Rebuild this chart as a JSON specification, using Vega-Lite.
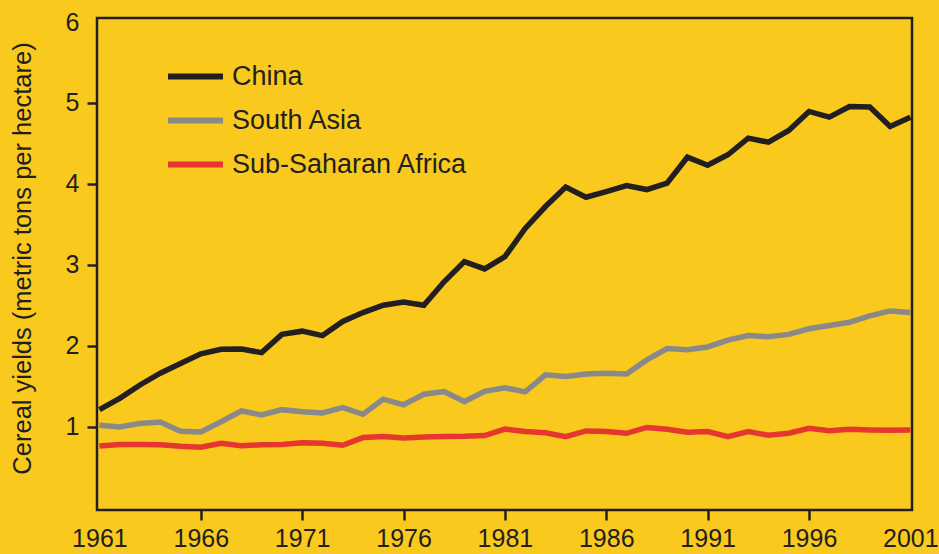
{
  "$schema": "https://vega.github.io/schema/vega-lite/v6.json",
  "autosize": {"type": "none"},
  "width": 815,
  "height": 492,
  "padding": {"left": 97, "top": 18, "right": 27, "bottom": 44},
  "background": "#F9C91E",
  "config": {
    "view": {"stroke": "#231F20", "strokeWidth": 2.5},
    "font": "Liberation Sans"
  },
  "data": {"values": [
    {"year": 1961, "region": "China", "yield": 1.21},
    {"year": 1962, "region": "China", "yield": 1.35},
    {"year": 1963, "region": "China", "yield": 1.515},
    {"year": 1964, "region": "China", "yield": 1.66},
    {"year": 1965, "region": "China", "yield": 1.78},
    {"year": 1966, "region": "China", "yield": 1.9},
    {"year": 1967, "region": "China", "yield": 1.956},
    {"year": 1968, "region": "China", "yield": 1.96},
    {"year": 1969, "region": "China", "yield": 1.915},
    {"year": 1970, "region": "China", "yield": 2.14},
    {"year": 1971, "region": "China", "yield": 2.18},
    {"year": 1972, "region": "China", "yield": 2.125},
    {"year": 1973, "region": "China", "yield": 2.3},
    {"year": 1974, "region": "China", "yield": 2.41},
    {"year": 1975, "region": "China", "yield": 2.5},
    {"year": 1976, "region": "China", "yield": 2.54},
    {"year": 1977, "region": "China", "yield": 2.5},
    {"year": 1978, "region": "China", "yield": 2.79},
    {"year": 1979, "region": "China", "yield": 3.04},
    {"year": 1980, "region": "China", "yield": 2.95},
    {"year": 1981, "region": "China", "yield": 3.1},
    {"year": 1982, "region": "China", "yield": 3.45},
    {"year": 1983, "region": "China", "yield": 3.72},
    {"year": 1984, "region": "China", "yield": 3.96},
    {"year": 1985, "region": "China", "yield": 3.835},
    {"year": 1986, "region": "China", "yield": 3.905},
    {"year": 1987, "region": "China", "yield": 3.98},
    {"year": 1988, "region": "China", "yield": 3.93},
    {"year": 1989, "region": "China", "yield": 4.01},
    {"year": 1990, "region": "China", "yield": 4.33},
    {"year": 1991, "region": "China", "yield": 4.23},
    {"year": 1992, "region": "China", "yield": 4.36},
    {"year": 1993, "region": "China", "yield": 4.565},
    {"year": 1994, "region": "China", "yield": 4.515},
    {"year": 1995, "region": "China", "yield": 4.66},
    {"year": 1996, "region": "China", "yield": 4.895},
    {"year": 1997, "region": "China", "yield": 4.825},
    {"year": 1998, "region": "China", "yield": 4.955},
    {"year": 1999, "region": "China", "yield": 4.95},
    {"year": 2000, "region": "China", "yield": 4.71},
    {"year": 2001, "region": "China", "yield": 4.825},
    {"year": 1961, "region": "South Asia", "yield": 1.017},
    {"year": 1962, "region": "South Asia", "yield": 0.996},
    {"year": 1963, "region": "South Asia", "yield": 1.04},
    {"year": 1964, "region": "South Asia", "yield": 1.058},
    {"year": 1965, "region": "South Asia", "yield": 0.943},
    {"year": 1966, "region": "South Asia", "yield": 0.935},
    {"year": 1967, "region": "South Asia", "yield": 1.06},
    {"year": 1968, "region": "South Asia", "yield": 1.194},
    {"year": 1969, "region": "South Asia", "yield": 1.145},
    {"year": 1970, "region": "South Asia", "yield": 1.21},
    {"year": 1971, "region": "South Asia", "yield": 1.185},
    {"year": 1972, "region": "South Asia", "yield": 1.17},
    {"year": 1973, "region": "South Asia", "yield": 1.235},
    {"year": 1974, "region": "South Asia", "yield": 1.153},
    {"year": 1975, "region": "South Asia", "yield": 1.34},
    {"year": 1976, "region": "South Asia", "yield": 1.27},
    {"year": 1977, "region": "South Asia", "yield": 1.4},
    {"year": 1978, "region": "South Asia", "yield": 1.433},
    {"year": 1979, "region": "South Asia", "yield": 1.31},
    {"year": 1980, "region": "South Asia", "yield": 1.437},
    {"year": 1981, "region": "South Asia", "yield": 1.48},
    {"year": 1982, "region": "South Asia", "yield": 1.43},
    {"year": 1983, "region": "South Asia", "yield": 1.64},
    {"year": 1984, "region": "South Asia", "yield": 1.62},
    {"year": 1985, "region": "South Asia", "yield": 1.65},
    {"year": 1986, "region": "South Asia", "yield": 1.66},
    {"year": 1987, "region": "South Asia", "yield": 1.65},
    {"year": 1988, "region": "South Asia", "yield": 1.825},
    {"year": 1989, "region": "South Asia", "yield": 1.965},
    {"year": 1990, "region": "South Asia", "yield": 1.95},
    {"year": 1991, "region": "South Asia", "yield": 1.985},
    {"year": 1992, "region": "South Asia", "yield": 2.07},
    {"year": 1993, "region": "South Asia", "yield": 2.125},
    {"year": 1994, "region": "South Asia", "yield": 2.11},
    {"year": 1995, "region": "South Asia", "yield": 2.14},
    {"year": 1996, "region": "South Asia", "yield": 2.21},
    {"year": 1997, "region": "South Asia", "yield": 2.25},
    {"year": 1998, "region": "South Asia", "yield": 2.29},
    {"year": 1999, "region": "South Asia", "yield": 2.37},
    {"year": 2000, "region": "South Asia", "yield": 2.43},
    {"year": 2001, "region": "South Asia", "yield": 2.41},
    {"year": 1961, "region": "Sub-Saharan Africa", "yield": 0.76},
    {"year": 1962, "region": "Sub-Saharan Africa", "yield": 0.78},
    {"year": 1963, "region": "Sub-Saharan Africa", "yield": 0.78},
    {"year": 1964, "region": "Sub-Saharan Africa", "yield": 0.775},
    {"year": 1965, "region": "Sub-Saharan Africa", "yield": 0.757},
    {"year": 1966, "region": "Sub-Saharan Africa", "yield": 0.745},
    {"year": 1967, "region": "Sub-Saharan Africa", "yield": 0.795},
    {"year": 1968, "region": "Sub-Saharan Africa", "yield": 0.765},
    {"year": 1969, "region": "Sub-Saharan Africa", "yield": 0.775},
    {"year": 1970, "region": "Sub-Saharan Africa", "yield": 0.78},
    {"year": 1971, "region": "Sub-Saharan Africa", "yield": 0.8},
    {"year": 1972, "region": "Sub-Saharan Africa", "yield": 0.795},
    {"year": 1973, "region": "Sub-Saharan Africa", "yield": 0.77},
    {"year": 1974, "region": "Sub-Saharan Africa", "yield": 0.865},
    {"year": 1975, "region": "Sub-Saharan Africa", "yield": 0.877},
    {"year": 1976, "region": "Sub-Saharan Africa", "yield": 0.86},
    {"year": 1977, "region": "Sub-Saharan Africa", "yield": 0.873},
    {"year": 1978, "region": "Sub-Saharan Africa", "yield": 0.877},
    {"year": 1979, "region": "Sub-Saharan Africa", "yield": 0.88},
    {"year": 1980, "region": "Sub-Saharan Africa", "yield": 0.89},
    {"year": 1981, "region": "Sub-Saharan Africa", "yield": 0.97},
    {"year": 1982, "region": "Sub-Saharan Africa", "yield": 0.94},
    {"year": 1983, "region": "Sub-Saharan Africa", "yield": 0.925},
    {"year": 1984, "region": "Sub-Saharan Africa", "yield": 0.877},
    {"year": 1985, "region": "Sub-Saharan Africa", "yield": 0.947},
    {"year": 1986, "region": "Sub-Saharan Africa", "yield": 0.94},
    {"year": 1987, "region": "Sub-Saharan Africa", "yield": 0.918},
    {"year": 1988, "region": "Sub-Saharan Africa", "yield": 0.99},
    {"year": 1989, "region": "Sub-Saharan Africa", "yield": 0.967},
    {"year": 1990, "region": "Sub-Saharan Africa", "yield": 0.93},
    {"year": 1991, "region": "Sub-Saharan Africa", "yield": 0.94},
    {"year": 1992, "region": "Sub-Saharan Africa", "yield": 0.877},
    {"year": 1993, "region": "Sub-Saharan Africa", "yield": 0.94},
    {"year": 1994, "region": "Sub-Saharan Africa", "yield": 0.893},
    {"year": 1995, "region": "Sub-Saharan Africa", "yield": 0.918},
    {"year": 1996, "region": "Sub-Saharan Africa", "yield": 0.98},
    {"year": 1997, "region": "Sub-Saharan Africa", "yield": 0.95},
    {"year": 1998, "region": "Sub-Saharan Africa", "yield": 0.967},
    {"year": 1999, "region": "Sub-Saharan Africa", "yield": 0.96},
    {"year": 2000, "region": "Sub-Saharan Africa", "yield": 0.955},
    {"year": 2001, "region": "Sub-Saharan Africa", "yield": 0.96}
  ]},
  "mark": {"type": "line", "strokeWidth": 5.5, "strokeJoin": "miter", "clip": false},
  "encoding": {
    "x": {
      "field": "year", "type": "quantitative",
      "scale": {"domain": [1960.88, 2001.08], "nice": false, "zero": false},
      "axis": {
        "title": null, "values": [1961, 1966, 1971, 1976, 1981, 1986, 1991, 1996, 2001],
        "format": "d", "grid": false, "domain": false,
        "tickSize": 10, "tickWidth": 2.5,
        "tickColor": {"condition": {"test": "datum.value == 1961 || datum.value == 2001", "value": "transparent"}, "value": "#231F20"},
        "labelFontSize": 25, "labelColor": "#231F20", "labelPadding": 6,
        "labelFlush": false, "labelOverlap": false
      }
    },
    "y": {
      "field": "yield", "type": "quantitative",
      "scale": {"domain": [-0.03, 6.05], "nice": false, "zero": false},
      "axis": {
        "title": "Cereal yields (metric tons per hectare)",
        "values": [1, 2, 3, 4, 5, 6], "grid": false, "domain": false,
        "tickSize": 10, "tickWidth": 2.5,
        "tickColor": {"condition": {"test": "datum.value == 6", "value": "transparent"}, "value": "#231F20"},
        "labelFontSize": 25, "labelColor": "#231F20", "labelPadding": 8,
        "labelFlush": false, "labelOverlap": false,
        "titleFontSize": 25.5, "titleFontWeight": "normal", "titleColor": "#231F20",
        "titleX": -75, "titleY": 240, "titleAngle": -90, "titleBaseline": "middle", "titleAlign": "center",
        "titleLimit": 0
      }
    },
    "color": {
      "field": "region", "type": "nominal",
      "scale": {"domain": ["China", "South Asia", "Sub-Saharan Africa"], "range": ["#231F20", "#898989", "#E5372F"]},
      "legend": {
        "title": null, "orient": "none", "legendX": 68, "legendY": 28,
        "symbolType": "stroke", "symbolSize": 3025, "symbolStrokeWidth": 6,
        "labelFontSize": 27, "labelColor": "#231F20", "labelOffset": 6, "labelLimit": 0,
        "rowPadding": -16.5, "padding": 0, "offset": 0
      }
    }
  }
}
